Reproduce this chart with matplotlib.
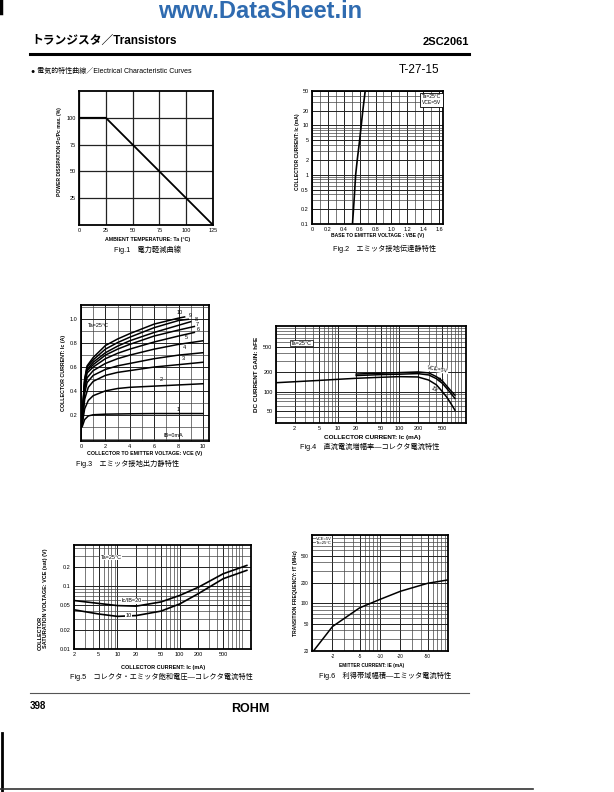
import matplotlib
matplotlib.use('Agg')
import matplotlib.pyplot as plt
from matplotlib.ticker import FixedLocator, NullFormatter, LogLocator, MultipleLocator

plt.rcParams['font.family'] = ['Liberation Sans', 'Noto Sans CJK JP']

# ---- data ----
# Fig.1 power derating
derate_temp = [0, 25, 125]
derate_pct = [100, 100, 0]

# Fig.2 Ic vs Vbe
vbe = [0.51, 0.53, 0.55, 0.57, 0.60, 0.62, 0.64, 0.67]
ic_vbe = [0.1, 0.3, 1, 2, 5, 10, 20, 50]

# Fig.3 output characteristics (Vce, Ic) per base current in mA
out_curves = {
    1: ([0.1, 0.3, 0.6, 1, 2, 4, 6, 8, 10],
        [0.1, 0.16, 0.19, 0.2, 0.205, 0.208, 0.21, 0.21, 0.21]),
    2: ([0.1, 0.3, 0.6, 1, 2, 3, 4, 6, 8, 10],
        [0.12, 0.25, 0.32, 0.36, 0.4, 0.42, 0.43, 0.44, 0.45, 0.46]),
    3: ([0.1, 0.3, 0.6, 1, 2, 3, 4, 6, 8, 10],
        [0.13, 0.33, 0.43, 0.48, 0.53, 0.555, 0.57, 0.6, 0.62, 0.64]),
    4: ([0.1, 0.3, 0.5, 1, 2, 3, 4, 6, 8, 10],
        [0.14, 0.38, 0.47, 0.53, 0.58, 0.61, 0.63, 0.67, 0.7, 0.72]),
    5: ([0.1, 0.3, 0.5, 1, 2, 3, 4, 6, 8, 10],
        [0.15, 0.42, 0.51, 0.57, 0.63, 0.67, 0.7, 0.75, 0.79, 0.82]),
    6: ([0.1, 0.3, 0.5, 1, 2, 3, 4, 6, 8, 9.3],
        [0.16, 0.45, 0.55, 0.6, 0.67, 0.715, 0.75, 0.81, 0.86, 0.89]),
    7: ([0.1, 0.3, 0.5, 1, 2, 3, 4, 6, 8, 9.3],
        [0.17, 0.47, 0.57, 0.62, 0.7, 0.75, 0.79, 0.86, 0.91, 0.94]),
    8: ([0.1, 0.3, 0.5, 1, 2, 3, 4, 6, 8, 9.0],
        [0.18, 0.48, 0.58, 0.64, 0.72, 0.775, 0.82, 0.89, 0.95, 0.98]),
    9: ([0.1, 0.3, 0.5, 1, 2, 3, 4, 6, 8, 8.8],
        [0.19, 0.49, 0.6, 0.66, 0.75, 0.805, 0.85, 0.93, 0.99, 1.0]),
    10: ([0.1, 0.3, 0.5, 1, 2, 3, 4, 6, 8, 8.5],
         [0.2, 0.5, 0.61, 0.68, 0.78, 0.835, 0.88, 0.96, 1.01, 1.02]),
}
out_label_pos = {10: (8.1, 1.06), 9: (9.0, 1.035), 8: (9.5, 1.0), 7: (9.5, 0.96),
                 6: (9.6, 0.915), 5: (8.6, 0.85), 4: (8.5, 0.76), 3: (8.4, 0.675),
                 2: (6.6, 0.495), 1: (8.0, 0.245)}

# Fig.4 hFE vs Ic
hfe_ic_1v = [1, 2, 5, 10, 20, 50, 100, 200, 300, 400, 500, 600, 700, 800]
hfe_1v = [138, 143, 150, 156, 162, 168, 172, 170, 152, 128, 100, 80, 63, 51]
hfe_ic_hi = [20, 50, 100, 200, 300, 400, 500, 600, 700, 800]
hfe_3v = [179, 185, 188, 192, 183, 160, 135, 110, 92, 78]
hfe_5v = [189, 195, 199, 204, 197, 172, 147, 120, 101, 88]

# Fig.5 Vce(sat) vs Ic
sat_ic = [2, 5, 10, 20, 50, 100, 200, 500, 1200]
sat_20 = [0.059, 0.053, 0.049, 0.048, 0.056, 0.071, 0.096, 0.157, 0.213]
sat_10 = [0.042, 0.036, 0.033, 0.034, 0.040, 0.052, 0.076, 0.131, 0.178]

# Fig.6 fT vs Ie
ft_ie = [1.05, 2, 5, 10, 20, 50, 100]
ft_mhz = [20, 45.6, 85.5, 114, 150, 196, 220]

W, H = 614, 792
fig = plt.figure(figsize=(W / 100, H / 100), dpi=100)


def px_axes(l, t, r, b):
    return fig.add_axes([l / W, 1 - b / H, (r - l) / W, (b - t) / H])


def txt(x, y, s, **kw):
    kw.setdefault('va', 'center')
    fig.text(x / W, 1 - y / H, s, **kw)


def style(ax):
    for s in ax.spines.values():
        s.set_linewidth(1.3)
    ax.tick_params(which='both', length=0, labelsize=4, pad=2.5)
    ax.grid(which='major', color='#222222', lw=0.7)
    ax.grid(which='minor', color='#444444', lw=0.5)
    ax.set_axisbelow(True)


def log_axis(axis, major, labels=None):
    axis.set_major_locator(FixedLocator(major))
    axis.set_ticklabels(labels if labels else [f'{m:g}' for m in major])
    axis.set_minor_locator(LogLocator(base=10, subs=range(1, 10)))
    axis.set_minor_formatter(NullFormatter())


# ---------------- page header ----------------
txt(260, 12, 'www.DataSheet.in', ha='center', fontsize=17, fontweight='bold',
    color='#2f6bb0')
txt(31, 41, 'トランジスタ／Transistors', fontsize=8.5, fontweight='bold')
txt(469, 42, '2SC2061', ha='right', fontsize=8, fontweight='bold')
fig.add_artist(plt.Line2D([30 / W, 469 / W], [1 - 54 / H, 1 - 54 / H], color='black', lw=2.2))
fig.add_artist(plt.Line2D([1 / W, 1 / W], [1, 1 - 13 / H], color='black', lw=2.5))
txt(31, 71, '● 電気的特性曲線／Electrical Characteristic Curves', fontsize=5)
txt(399, 70, 'T-27-15', fontsize=8.5)

# ---------------- Fig.1 ----------------
ax1 = px_axes(79, 91, 213, 225)
ax1.plot(derate_temp, derate_pct, color='black', lw=1.3)
ax1.set_xlim(0, 125)
ax1.set_ylim(0, 125)
ax1.set_xticks([0, 25, 50, 75, 100, 125])
ax1.set_yticks([25, 50, 75, 100])
style(ax1)
ax1.grid(which='major', color='#222222', lw=0.9)
txt(60, 152, 'POWER DISSIPATION:Pc/Pc max. (%)', rotation=90, ha='center', fontsize=3.6,
    fontweight='bold')
txt(148, 240, 'AMBIENT TEMPERATURE: Ta (°C)', ha='center', fontsize=3.8, fontweight='bold')
txt(148, 250, 'Fig.1　電力軽減曲線', ha='center', fontsize=5.2)

# ---------------- Fig.2 ----------------
ax2 = px_axes(312, 91, 443, 224)
ax2.semilogy(vbe, ic_vbe, color='black', lw=1.2)
ax2.set_xlim(0, 1.65)
ax2.set_ylim(0.1, 50)
ax2.xaxis.set_major_locator(FixedLocator([0, 0.2, 0.4, 0.6, 0.8, 1.0, 1.2, 1.4, 1.6]))
ax2.xaxis.set_ticklabels(['0', '0.2', '0.4', '0.6', '0.8', '1.0', '1.2', '1.4', '1.6'])
ax2.xaxis.set_minor_locator(MultipleLocator(0.1))
log_axis(ax2.yaxis, [0.1, 0.2, 0.5, 1, 2, 5, 10, 20, 50])
style(ax2)
ax2.text(0.985, 0.975, 'Ta=25°C\nVCE=5V', transform=ax2.transAxes, ha='right', va='top',
         fontsize=3.6, linespacing=1.2,
         bbox=dict(fc='white', ec='black', lw=0.6, pad=1.2))
txt(298, 152, 'COLLECTOR CURRENT: Ic (mA)', rotation=90, ha='center', fontsize=3.6,
    fontweight='bold')
txt(378, 236, 'BASE TO EMITTER VOLTAGE : VBE (V)', ha='center', fontsize=3.6, fontweight='bold')
txt(385, 249, 'Fig.2　エミッタ接地伝達静特性', ha='center', fontsize=5.2)

# ---------------- Fig.3 ----------------
ax3 = px_axes(81, 305, 209, 441)
for ib, (vx, iy) in out_curves.items():
    ax3.plot(vx, iy, color='black', lw=1.1)
    lx, ly = out_label_pos[ib]
    ax3.text(lx, ly, str(ib), fontsize=4, ha='center', va='center')
ax3.text(7.6, 0.03, 'IB=0mA', fontsize=4, ha='center', va='center')
ax3.text(0.6, 0.95, 'Ta=25°C', fontsize=4, va='center')
ax3.set_xlim(0, 10.5)
ax3.set_ylim(-0.02, 1.12)
ax3.set_xticks([0, 2, 4, 6, 8, 10])
ax3.set_yticks([0.2, 0.4, 0.6, 0.8, 1.0])
ax3.set_yticklabels(['0.2', '0.4', '0.6', '0.8', '1.0'])
ax3.xaxis.set_minor_locator(MultipleLocator(1))
ax3.yaxis.set_minor_locator(MultipleLocator(0.1))
style(ax3)
txt(63, 373, 'COLLECTOR CURRENT: Ic (A)', rotation=90, ha='center', fontsize=3.8,
    fontweight='bold')
txt(145, 453, 'COLLECTOR TO EMITTER VOLTAGE: VCE (V)', ha='center', fontsize=3.8,
    fontweight='bold')
txt(128, 464, 'Fig.3　エミッタ接地出力静特性', ha='center', fontsize=5.2)

# ---------------- Fig.4 ----------------
ax4 = px_axes(276, 326, 466, 423)
ax4.loglog(hfe_ic_1v, hfe_1v, color='black', lw=1.1)
ax4.loglog(hfe_ic_hi, hfe_3v, color='black', lw=1.1)
ax4.loglog(hfe_ic_hi, hfe_5v, color='black', lw=1.1)
ax4.set_xlim(1, 1210)
ax4.set_ylim(32, 1080)
log_axis(ax4.xaxis, [2, 5, 10, 20, 50, 100, 200, 500])
log_axis(ax4.yaxis, [50, 100, 200, 500])
style(ax4)
ax4.text(2.6, 580, 'Ta=25°C', fontsize=4, ha='center', va='center',
         bbox=dict(fc='white', ec='black', lw=0.5, pad=0.6))
ax4.text(420, 222, 'VCE=5V', fontsize=4, ha='center', va='center', rotation=-10,
         bbox=dict(fc='white', ec='none', pad=0.2))
ax4.text(440, 150, '3V', fontsize=4, ha='center', va='center', rotation=-30)
ax4.text(365, 108, '1V', fontsize=4, ha='center', va='center', rotation=-30)
txt(256, 374, 'DC CURRENT GAIN: hFE', rotation=90, ha='center', fontsize=4.6,
    fontweight='bold')
txt(372, 438, 'COLLECTOR CURRENT: Ic (mA)', ha='center', fontsize=4.6, fontweight='bold')
txt(370, 447, 'Fig.4　直流電流増幅率―コレクタ電流特性', ha='center', fontsize=5.2)

# ---------------- Fig.5 ----------------
ax5 = px_axes(74, 545, 251, 649)
ax5.loglog(sat_ic, sat_20, color='black', lw=1.2)
ax5.loglog(sat_ic, sat_10, color='black', lw=1.2)
ax5.set_xlim(2, 1400)
ax5.set_ylim(0.01, 0.45)
log_axis(ax5.xaxis, [2, 5, 10, 20, 50, 100, 200, 500])
log_axis(ax5.yaxis, [0.01, 0.02, 0.05, 0.1, 0.2])
style(ax5)
ax5.text(0.21, 0.88, 'Ta=25°C', transform=ax5.transAxes, fontsize=4, ha='center',
         va='center', bbox=dict(fc='white', ec='none', pad=0.3))
ax5.text(17, 0.058, 'Ic/IB=20', fontsize=4, ha='center', va='center',
         bbox=dict(fc='white', ec='none', pad=0.2))
ax5.text(15, 0.034, '10', fontsize=4, ha='center', va='center',
         bbox=dict(fc='white', ec='none', pad=0.3))
txt(40, 650, 'COLLECTOR', rotation=90, ha='center', va='bottom', fontsize=4,
    fontweight='bold')
txt(46, 648, 'SATURATION VOLTAGE: VCE (sat) (V)', rotation=90, ha='center', va='bottom',
    fontsize=4, fontweight='bold')
txt(163, 668, 'COLLECTOR CURRENT: Ic (mA)', ha='center', fontsize=4, fontweight='bold')
txt(161, 677, 'Fig.5　コレクタ・エミッタ飽和電圧―コレクタ電流特性', ha='center', fontsize=5.2)

# ---------------- Fig.6 ----------------
ax6 = px_axes(312, 535, 448, 651)
ax6.loglog(ft_ie, ft_mhz, color='black', lw=1.1)
ax6.set_xlim(1, 100)
ax6.set_ylim(20, 1000)
log_axis(ax6.xaxis, [2, 5, 10, 20, 50], ['-2', '-5', '-10', '-20', '-50'])
log_axis(ax6.yaxis, [20, 50, 100, 200, 500])
style(ax6)
ax6.tick_params(labelsize=3.4)
ax6.text(0.03, 0.985, 'VCE=5V\nTa=25°C', transform=ax6.transAxes, fontsize=3, ha='left',
         va='top', linespacing=1.0, bbox=dict(fc='white', ec='none', pad=0.3))
txt(295, 593, 'TRANSITION FREQUENCY: fT (MHz)', rotation=90, ha='center', fontsize=3.6,
    fontweight='bold')
txt(372, 665, 'EMITTER CURRENT: IE (mA)', ha='center', fontsize=3.4, fontweight='bold')
txt(385, 676, 'Fig.6　利得帯域幅積―エミッタ電流特性', ha='center', fontsize=5.2)

# ---------------- page footer ----------------
fig.add_artist(plt.Line2D([30 / W, 469 / W], [1 - 693 / H, 1 - 693 / H], color='#555555', lw=0.8))
txt(30, 706, '398', fontsize=7, fontweight='bold')
txt(250, 709, 'ROHM', ha='center', fontsize=9, fontweight='heavy')
fig.add_artist(plt.Line2D([2 / W, 2 / W], [1 - 733 / H, 0], color='black', lw=2))
fig.add_artist(plt.Line2D([0, 533 / W], [1 - 789 / H, 1 - 789 / H], color='#333333', lw=1.2))

fig.savefig('out.png', dpi=100, facecolor='white')
